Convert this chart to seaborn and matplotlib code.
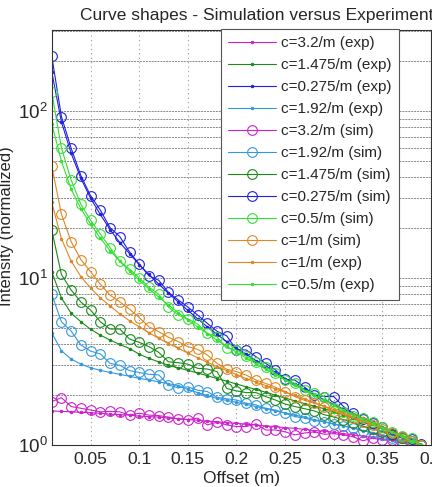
import matplotlib
matplotlib.use('Agg')
import matplotlib.pyplot as plt
import seaborn as sns
import numpy as np
from matplotlib.ticker import LogLocator, LogFormatterMathtext, NullFormatter

# offsets (m), one point every 1 cm
offset = [0.01, 0.02, 0.03, 0.04, 0.05, 0.06, 0.07, 0.08, 0.09, 0.10,
          0.11, 0.12, 0.13, 0.14, 0.15, 0.16, 0.17, 0.18, 0.19, 0.20,
          0.21, 0.22, 0.23, 0.24, 0.25, 0.26, 0.27, 0.28, 0.29, 0.30,
          0.31, 0.32, 0.33, 0.34, 0.35, 0.36, 0.37, 0.38, 0.39]

exp_3p2 = [1.60, 1.59, 1.58, 1.57, 1.56, 1.55, 1.53, 1.52, 1.51, 1.49,
           1.48, 1.47, 1.45, 1.44, 1.42, 1.41, 1.39, 1.38, 1.36, 1.35,
           1.33, 1.32, 1.30, 1.29, 1.27, 1.26, 1.24, 1.22, 1.21, 1.19,
           1.17, 1.15, 1.13, 1.11, 1.09, 1.07, 1.05, 1.02, 1.00]
exp_1p475 = [10.9, 7.6, 6.15, 5.47, 4.93, 4.55, 4.25, 4.0, 3.78, 3.5,
             3.3, 3.15, 3.0, 2.9, 2.8, 2.7, 2.6, 2.5, 2.41, 2.32,
             2.23, 2.15, 2.07, 1.99, 1.91, 1.84, 1.77, 1.71, 1.65, 1.58,
             1.52, 1.45, 1.39, 1.33, 1.27, 1.2, 1.13, 1.07, 1.0]
exp_0p275 = [172, 86, 55.8, 39.5, 30, 24, 19.5, 16.3, 14, 12,
             10.5, 9.2, 8.1, 7.2, 6.4, 5.7, 5.1, 4.6, 4.15, 3.8,
             3.5, 3.2, 2.95, 2.72, 2.5, 2.32, 2.15, 2.0, 1.87, 1.75,
             1.64, 1.54, 1.45, 1.37, 1.29, 1.21, 1.14, 1.07, 1.0]
exp_1p92 = [4.7, 3.67, 3.27, 3.05, 2.9, 2.8, 2.72, 2.65, 2.58, 2.51,
            2.45, 2.39, 2.33, 2.27, 2.15, 2.06, 1.98, 1.9, 1.85, 1.8,
            1.75, 1.7, 1.65, 1.6, 1.56, 1.51, 1.47, 1.42, 1.38, 1.34,
            1.3, 1.26, 1.22, 1.18, 1.14, 1.1, 1.06, 1.03, 1.0]
sim_3p2 = [1.82, 1.92, 1.70, 1.66, 1.62, 1.58, 1.59, 1.58, 1.51, 1.55,
           1.51, 1.50, 1.47, 1.43, 1.42, 1.45, 1.32, 1.37, 1.32, 1.29,
           1.29, 1.34, 1.23, 1.23, 1.20, 1.15, 1.18, 1.20, 1.16, 1.17,
           1.15, 1.12, 1.06, 1.10, 1.07, 1.07, 1.02, 1.03, 1.00]
sim_1p92 = [7.99, 5.47, 4.81, 3.97, 3.65, 3.51, 3.08, 3.0, 2.79, 2.72,
            2.65, 2.63, 2.29, 2.2, 2.23, 2.13, 2.09, 1.93, 1.89, 1.86,
            1.78, 1.74, 1.66, 1.62, 1.55, 1.48, 1.45, 1.4, 1.38, 1.33,
            1.3, 1.27, 1.22, 1.19, 1.15, 1.1, 1.06, 1.03, 1.0]
sim_1p475 = [19.4, 10.5, 8.47, 7.18, 6.43, 5.47, 4.95, 4.95, 4.31, 4.12,
             3.88, 3.59, 3.15, 3.11, 3.05, 2.88, 2.85, 2.75, 2.18, 2.11,
             2.06, 2.06, 1.95, 1.86, 1.76, 1.7, 1.65, 1.6, 1.52, 1.47,
             1.42, 1.36, 1.3, 1.25, 1.2, 1.15, 1.1, 1.05, 1.0]
sim_0p275 = [214, 92.5, 59.8, 41, 31, 25.5, 20, 17.7, 14.3, 12.1,
             10.3, 9.7, 8.2, 7.4, 6.7, 6.0, 5.35, 4.8, 4.5, 3.71,
             3.71, 3.38, 3.08, 2.82, 2.47, 2.45, 2.22, 1.99, 1.95, 1.95,
             1.70, 1.55, 1.44, 1.35, 1.28, 1.16, 1.12, 1.08, 1.01]
sim_0p5 = [130, 60, 38.6, 27.6, 22.2, 18.3, 15.2, 12.6, 11.3, 10.0,
           8.8, 8.0, 6.7, 6.0, 5.7, 5.3, 4.67, 4.45, 3.8, 3.71,
           3.41, 3.15, 2.94, 2.69, 2.45, 2.34, 2.13, 2.04, 1.95, 1.66,
           1.58, 1.5, 1.46, 1.38, 1.29, 1.2, 1.14, 1.1, 1.0]
sim_1 = [46.9, 24.1, 16.5, 12.9, 10.9, 9.17, 7.9, 7.2, 6.5, 5.8,
         5.1, 4.77, 4.42, 4.16, 3.88, 3.74, 3.46, 3.08, 2.84, 2.75,
         2.62, 2.45, 2.34, 2.22, 2.09, 1.95, 1.85, 1.78, 1.7, 1.6,
         1.52, 1.45, 1.38, 1.32, 1.25, 1.18, 1.12, 1.06, 1.0]
exp_1 = [28.4, 17.2, 12.6, 10.2, 8.7, 7.6, 6.8, 6.1, 5.55, 5.1,
         4.7, 4.35, 4.05, 3.8, 3.55, 3.33, 3.13, 2.95, 2.79, 2.64,
         2.5, 2.38, 2.27, 2.17, 2.07, 1.98, 1.89, 1.8, 1.71, 1.63,
         1.55, 1.47, 1.4, 1.33, 1.26, 1.19, 1.13, 1.06, 1.0]
exp_0p5 = [84, 50, 34, 26, 21, 17.3, 14.6, 12.6, 11.0, 9.7,
           8.6, 7.7, 6.9, 6.2, 5.6, 5.1, 4.65, 4.25, 3.9, 3.6,
           3.32, 3.07, 2.85, 2.64, 2.45, 2.28, 2.12, 1.98, 1.85, 1.73,
           1.62, 1.52, 1.43, 1.35, 1.27, 1.2, 1.13, 1.06, 1.0]

MAGENTA = '#cc22cc'
DKGREEN = '#1a8a1a'
BLUE = '#2020e0'
LTBLUE = '#3399dd'
GREEN = '#33e033'
ORANGE = '#dd8822'

# (label, values, color, kind) in legend order
series = [
    ('c=3.2/m (exp)', exp_3p2, MAGENTA, 'exp'),
    ('c=1.475/m (exp)', exp_1p475, DKGREEN, 'exp'),
    ('c=0.275/m (exp)', exp_0p275, BLUE, 'exp'),
    ('c=1.92/m (exp)', exp_1p92, LTBLUE, 'exp'),
    ('c=3.2/m (sim)', sim_3p2, MAGENTA, 'sim'),
    ('c=1.92/m (sim)', sim_1p92, LTBLUE, 'sim'),
    ('c=1.475/m (sim)', sim_1p475, DKGREEN, 'sim'),
    ('c=0.275/m (sim)', sim_0p275, BLUE, 'sim'),
    ('c=0.5/m (sim)', sim_0p5, GREEN, 'sim'),
    ('c=1/m (sim)', sim_1, ORANGE, 'sim'),
    ('c=1/m (exp)', exp_1, ORANGE, 'exp'),
    ('c=0.5/m (exp)', exp_0p5, GREEN, 'exp'),
]

sns.set_style('white')
plt.rcParams['font.family'] = ['Liberation Sans', 'DejaVu Sans']
plt.rcParams['mathtext.default'] = 'regular'

fig = plt.figure(figsize=(4.32, 4.87), dpi=100)
ax = fig.add_axes([0.1197, 0.0862, 0.878, 0.852])

for label, vals, color, kind in series:
    if kind == 'sim':
        sns.lineplot(x=offset, y=vals, ax=ax, color=color, label=label,
                     marker='o', markersize=7, markerfacecolor='none',
                     markeredgecolor=color, markeredgewidth=0.8, linewidth=0.8)
    else:
        sns.lineplot(x=offset, y=vals, ax=ax, color=color, label=label,
                     marker='.', markersize=3.5, markeredgecolor=color,
                     linewidth=0.8)

ax.set_yscale('log')
ax.set_xlim(0.01, 0.4)
ax.set_ylim(1, 305)
ax.set_xticks([0.05, 0.1, 0.15, 0.2, 0.25, 0.3, 0.35, 0.4])
ax.set_xticklabels(['0.05', '0.1', '0.15', '0.2', '0.25', '0.3', '0.35', '0.4'])
ax.yaxis.set_major_locator(LogLocator(base=10))
ax.yaxis.set_major_formatter(LogFormatterMathtext())
ax.yaxis.set_minor_locator(LogLocator(base=10, subs=np.arange(2, 10)))
ax.yaxis.set_minor_formatter(NullFormatter())

ax.tick_params(axis='x', which='major', direction='in', length=4,
               labelsize=12.5, color='#333333', pad=5)
ax.tick_params(axis='y', which='major', direction='in', length=4,
               labelsize=13.5, color='#333333', pad=3)
ax.tick_params(axis='y', which='minor', direction='in', length=2, color='#333333')

ax.xaxis.grid(True, which='major', linestyle=(0, (1, 3)), color='#999999', linewidth=0.8)
ax.yaxis.grid(True, which='both', linestyle=(0, (2, 1)), color='#888888', linewidth=0.7)
ax.set_axisbelow(True)
for sp in ax.spines.values():
    sp.set_color('#333333')
    sp.set_linewidth(0.8)

ax.set_xlabel('Offset (m)', fontsize=12.5, labelpad=3)
ax.set_ylabel('Intensity (normalized)', fontsize=12, labelpad=3)
ax.yaxis.set_label_coords(-0.1, 0.527)
ax.set_title('Curve shapes - Simulation versus Experiment', fontsize=12.5, pad=7, x=0.54)

leg = ax.legend(loc='upper right', bbox_to_anchor=(0.916, 1.003), fontsize=11,
                frameon=True, fancybox=False, borderaxespad=0, handlelength=3.1,
                handletextpad=0.35, labelspacing=0.52, borderpad=0.5)
leg.get_frame().set_edgecolor('#555555')
leg.get_frame().set_linewidth(0.8)
leg.get_frame().set_alpha(1.0)

fig.savefig('out.png', dpi=100)
